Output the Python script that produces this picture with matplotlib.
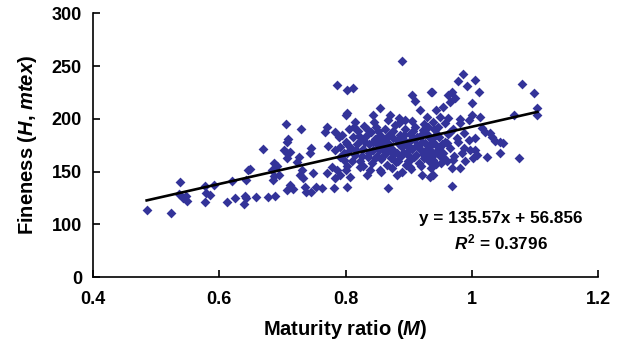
import matplotlib
matplotlib.use('Agg')
import matplotlib.pyplot as plt
import numpy as np

# (maturity ratio M, fineness H), grouped by area
left_pts = [(0.485, 113.5), (0.524, 110.7), (0.538, 139.8), (0.536, 128.7), (0.547, 126.8),
            (0.549, 122.3), (0.543, 124.9), (0.577, 136.3), (0.579, 129.9), (0.585, 127.7),
            (0.577, 121.1), (0.592, 137.2), (0.613, 121.1), (0.625, 124.9), (0.620, 141.3),
            (0.641, 127.1), (0.639, 119.2), (0.646, 151.4), (0.643, 141.9)]

mid_pts = [(0.787, 232.0), (0.802, 227.0), (0.801, 203.6), (0.706, 195.0), (0.730, 190.3),
           (0.771, 192.5), (0.768, 187.7), (0.783, 187.7), (0.789, 183.0), (0.709, 180.5),
           (0.707, 178.2), (0.669, 171.3), (0.703, 170.4), (0.707, 167.2), (0.712, 168.8),
           (0.746, 172.0), (0.743, 167.2), (0.773, 174.2), (0.791, 173.5), (0.783, 170.4),
           (0.802, 176.0), (0.727, 163.5), (0.723, 159.3), (0.707, 162.5), (0.686, 158.4),
           (0.691, 155.2), (0.648, 152.0), (0.683, 151.4), (0.687, 145.7), (0.695, 146.7),
           (0.685, 141.9), (0.731, 151.4), (0.728, 146.7), (0.733, 143.6), (0.748, 148.3),
           (0.712, 137.2), (0.717, 133.1), (0.707, 132.5), (0.736, 135.6), (0.737, 130.9),
           (0.754, 135.6), (0.762, 134.1), (0.746, 130.9), (0.770, 148.3), (0.778, 154.6),
           (0.786, 151.4), (0.791, 146.7), (0.783, 143.6), (0.781, 134.1), (0.801, 151.4),
           (0.802, 135.6), (0.659, 125.6), (0.643, 124.6), (0.678, 126.1), (0.688, 126.8),
           (0.797, 160.9), (0.802, 167.2)]

centre_pts = [(0.812, 228.9), (0.905, 222.5), (0.935, 225.6), (0.910, 216.6), (0.855, 209.9),
              (0.844, 203.6), (0.802, 205.2), (0.815, 197.2), (0.870, 203.6), (0.884, 200.4),
              (0.894, 198.8), (0.918, 208.1), (0.929, 202.0), (0.939, 197.2), (0.931, 192.5),
              (0.807, 145.1), (0.834, 146.7), (0.881, 146.7), (0.868, 134.1), (0.921, 146.7),
              (0.934, 145.1), (0.902, 154.6), (0.855, 151.4), (0.823, 154.6), (0.791, 164.0),
              (0.889, 254.7)]

core_pts = [(0.795, 185), (0.800, 178), (0.805, 190), (0.808, 172), (0.812, 183), (0.815, 166),
            (0.818, 176), (0.820, 188), (0.823, 160), (0.825, 180), (0.828, 171), (0.830, 193),
            (0.832, 184), (0.835, 164), (0.837, 176), (0.840, 187), (0.842, 158), (0.844, 170),
            (0.846, 181), (0.848, 192), (0.850, 165), (0.852, 175), (0.854, 185), (0.856, 162),
            (0.858, 172), (0.860, 180), (0.862, 190), (0.864, 168), (0.866, 156), (0.868, 177),
            (0.870, 186), (0.872, 163), (0.874, 171), (0.876, 182), (0.878, 194), (0.880, 159),
            (0.882, 168), (0.884, 176), (0.886, 185), (0.888, 165), (0.890, 173), (0.892, 180),
            (0.894, 190), (0.896, 156), (0.898, 167), (0.900, 178), (0.902, 186), (0.904, 162),
            (0.906, 171), (0.908, 181), (0.910, 192), (0.912, 166), (0.914, 175), (0.916, 158),
            (0.918, 184), (0.920, 170), (0.922, 189), (0.924, 163), (0.926, 177), (0.928, 168),
            (0.930, 185), (0.932, 160), (0.934, 174), (0.936, 181), (0.938, 166), (0.940, 190),
            (0.942, 176), (0.944, 157), (0.946, 170), (0.948, 183), (0.827, 155), (0.839, 151),
            (0.857, 150), (0.873, 153), (0.889, 150), (0.903, 152), (0.919, 155), (0.935, 153),
            (0.951, 158), (0.955, 168), (0.958, 178), (0.962, 186), (0.845, 197), (0.867, 199),
            (0.885, 196), (0.905, 198), (0.925, 195), (0.811, 160), (0.798, 168), (0.803, 155),
            (0.965, 172), (0.972, 165), (0.978, 178), (0.985, 168), (0.990, 160), (0.995, 180),
            (0.970, 190), (0.982, 200), (0.960, 160), (0.998, 170)]

core_extra_pts = [(0.813, 192), (0.817, 170), (0.822, 184), (0.826, 165), (0.831, 178),
                  (0.836, 189), (0.838, 168), (0.843, 178), (0.847, 163), (0.851, 188),
                  (0.853, 170), (0.857, 181), (0.861, 166), (0.863, 176), (0.867, 184),
                  (0.871, 172), (0.875, 188), (0.877, 167), (0.881, 180), (0.883, 160),
                  (0.887, 178), (0.891, 168), (0.893, 185), (0.897, 175), (0.899, 160),
                  (0.901, 170), (0.907, 188), (0.909, 164), (0.913, 183), (0.917, 172),
                  (0.921, 178), (0.923, 167), (0.927, 186), (0.931, 172), (0.933, 165),
                  (0.937, 178), (0.941, 168), (0.945, 186), (0.949, 165), (0.953, 176)]

right_pts = [(0.986, 242.4), (0.979, 236.1), (0.992, 231.0), (1.005, 236.7), (1.012, 225.6),
             (0.937, 225.6), (0.968, 225.6), (0.963, 222.5), (0.973, 219.4), (0.966, 216.2),
             (1.000, 214.6), (0.955, 211.4), (0.944, 208.3), (0.949, 202.0), (0.963, 200.4),
             (0.958, 195.7), (1.000, 203.6), (0.995, 198.8), (0.981, 195.7), (1.016, 190.9),
             (1.021, 187.7), (1.032, 183.0), (1.045, 178.2), (1.050, 176.7), (1.005, 181.5),
             (0.976, 181.5), (0.987, 186.2), (0.966, 187.7), (0.944, 184.6), (0.987, 172.0),
             (1.005, 170.4), (1.008, 165.6), (1.002, 162.5), (1.024, 164.0), (1.045, 167.2),
             (0.971, 160.9), (0.955, 164.0), (0.939, 160.9), (0.968, 153.0), (0.981, 153.0),
             (0.939, 146.7), (0.968, 136.3), (0.934, 170.4), (0.950, 173.5), (0.960, 176.7),
             (0.947, 192.5), (1.013, 201.4), (1.029, 186.2), (1.037, 179.2)]

far_right_pts = [(1.079, 232.9), (1.099, 224.1), (1.104, 209.9), (1.104, 203.6),
                 (1.067, 203.6), (1.075, 163.1)]

# trendline as printed on the chart
slope = 135.57
intercept = 56.856
r_squared = 0.3796

x_ticks = [0.4, 0.6, 0.8, 1.0, 1.2]
x_labels = ['0.4', '0.6', '0.8', '1', '1.2']
y_ticks = [50, 100, 150, 200, 250, 300]
y_labels = ['0', '100', '150', '200', '250', '300']

plt.rcParams['font.family'] = 'Liberation Sans'
plt.rcParams['font.weight'] = 'bold'
plt.rcParams['mathtext.fontset'] = 'custom'
plt.rcParams['mathtext.it'] = 'Liberation Sans:italic:bold'
plt.rcParams['mathtext.rm'] = 'Liberation Sans:bold'

all_pts = (left_pts + mid_pts + centre_pts + core_pts + core_extra_pts
           + right_pts + far_right_pts)
M = np.array([p[0] for p in all_pts])
H = np.array([p[1] for p in all_pts])

fig = plt.figure(figsize=(6.18, 3.52), dpi=100)
ax = fig.add_axes([93 / 618, 1 - 277 / 352, (598 - 93) / 618, (277 - 13.3) / 352])

ax.scatter(M, H, marker='D', s=25, color='#333399', linewidths=0, zorder=2)
xs = np.array([M.min(), M.max()])
ax.plot(xs, slope * xs + intercept, color='black', lw=1.9, zorder=3)

ax.set_xlim(0.4, 1.2)
ax.set_ylim(50, 300)
ax.set_xticks(x_ticks)
ax.set_xticklabels(x_labels)
ax.set_yticks(y_ticks)
ax.set_yticklabels(y_labels)
for side in ['top', 'right']:
    ax.spines[side].set_visible(False)
for side in ['left', 'bottom']:
    ax.spines[side].set_linewidth(1.2)
ax.tick_params(direction='in', length=5, width=1.2, labelsize=13)
ax.tick_params(axis='x', pad=10)
ax.tick_params(axis='y', pad=8)

ax.set_xlabel(r'Maturity ratio ($M$)', fontsize=14.5, fontweight='bold', labelpad=7)
ax.set_ylabel(r'Fineness ($H$, $mtex$)', fontsize=14.5, fontweight='bold', labelpad=9)

fig.text(0.811, 1 - 219 / 352, 'y = %.2fx + %.3f' % (slope, intercept),
         ha='center', va='center', fontsize=12.3, fontweight='bold')
fig.text(0.811, 1 - 242 / 352, r'$R^2$ = %.4f' % r_squared,
         ha='center', va='center', fontsize=12.3, fontweight='bold')

fig.savefig('out.png', dpi=100)
